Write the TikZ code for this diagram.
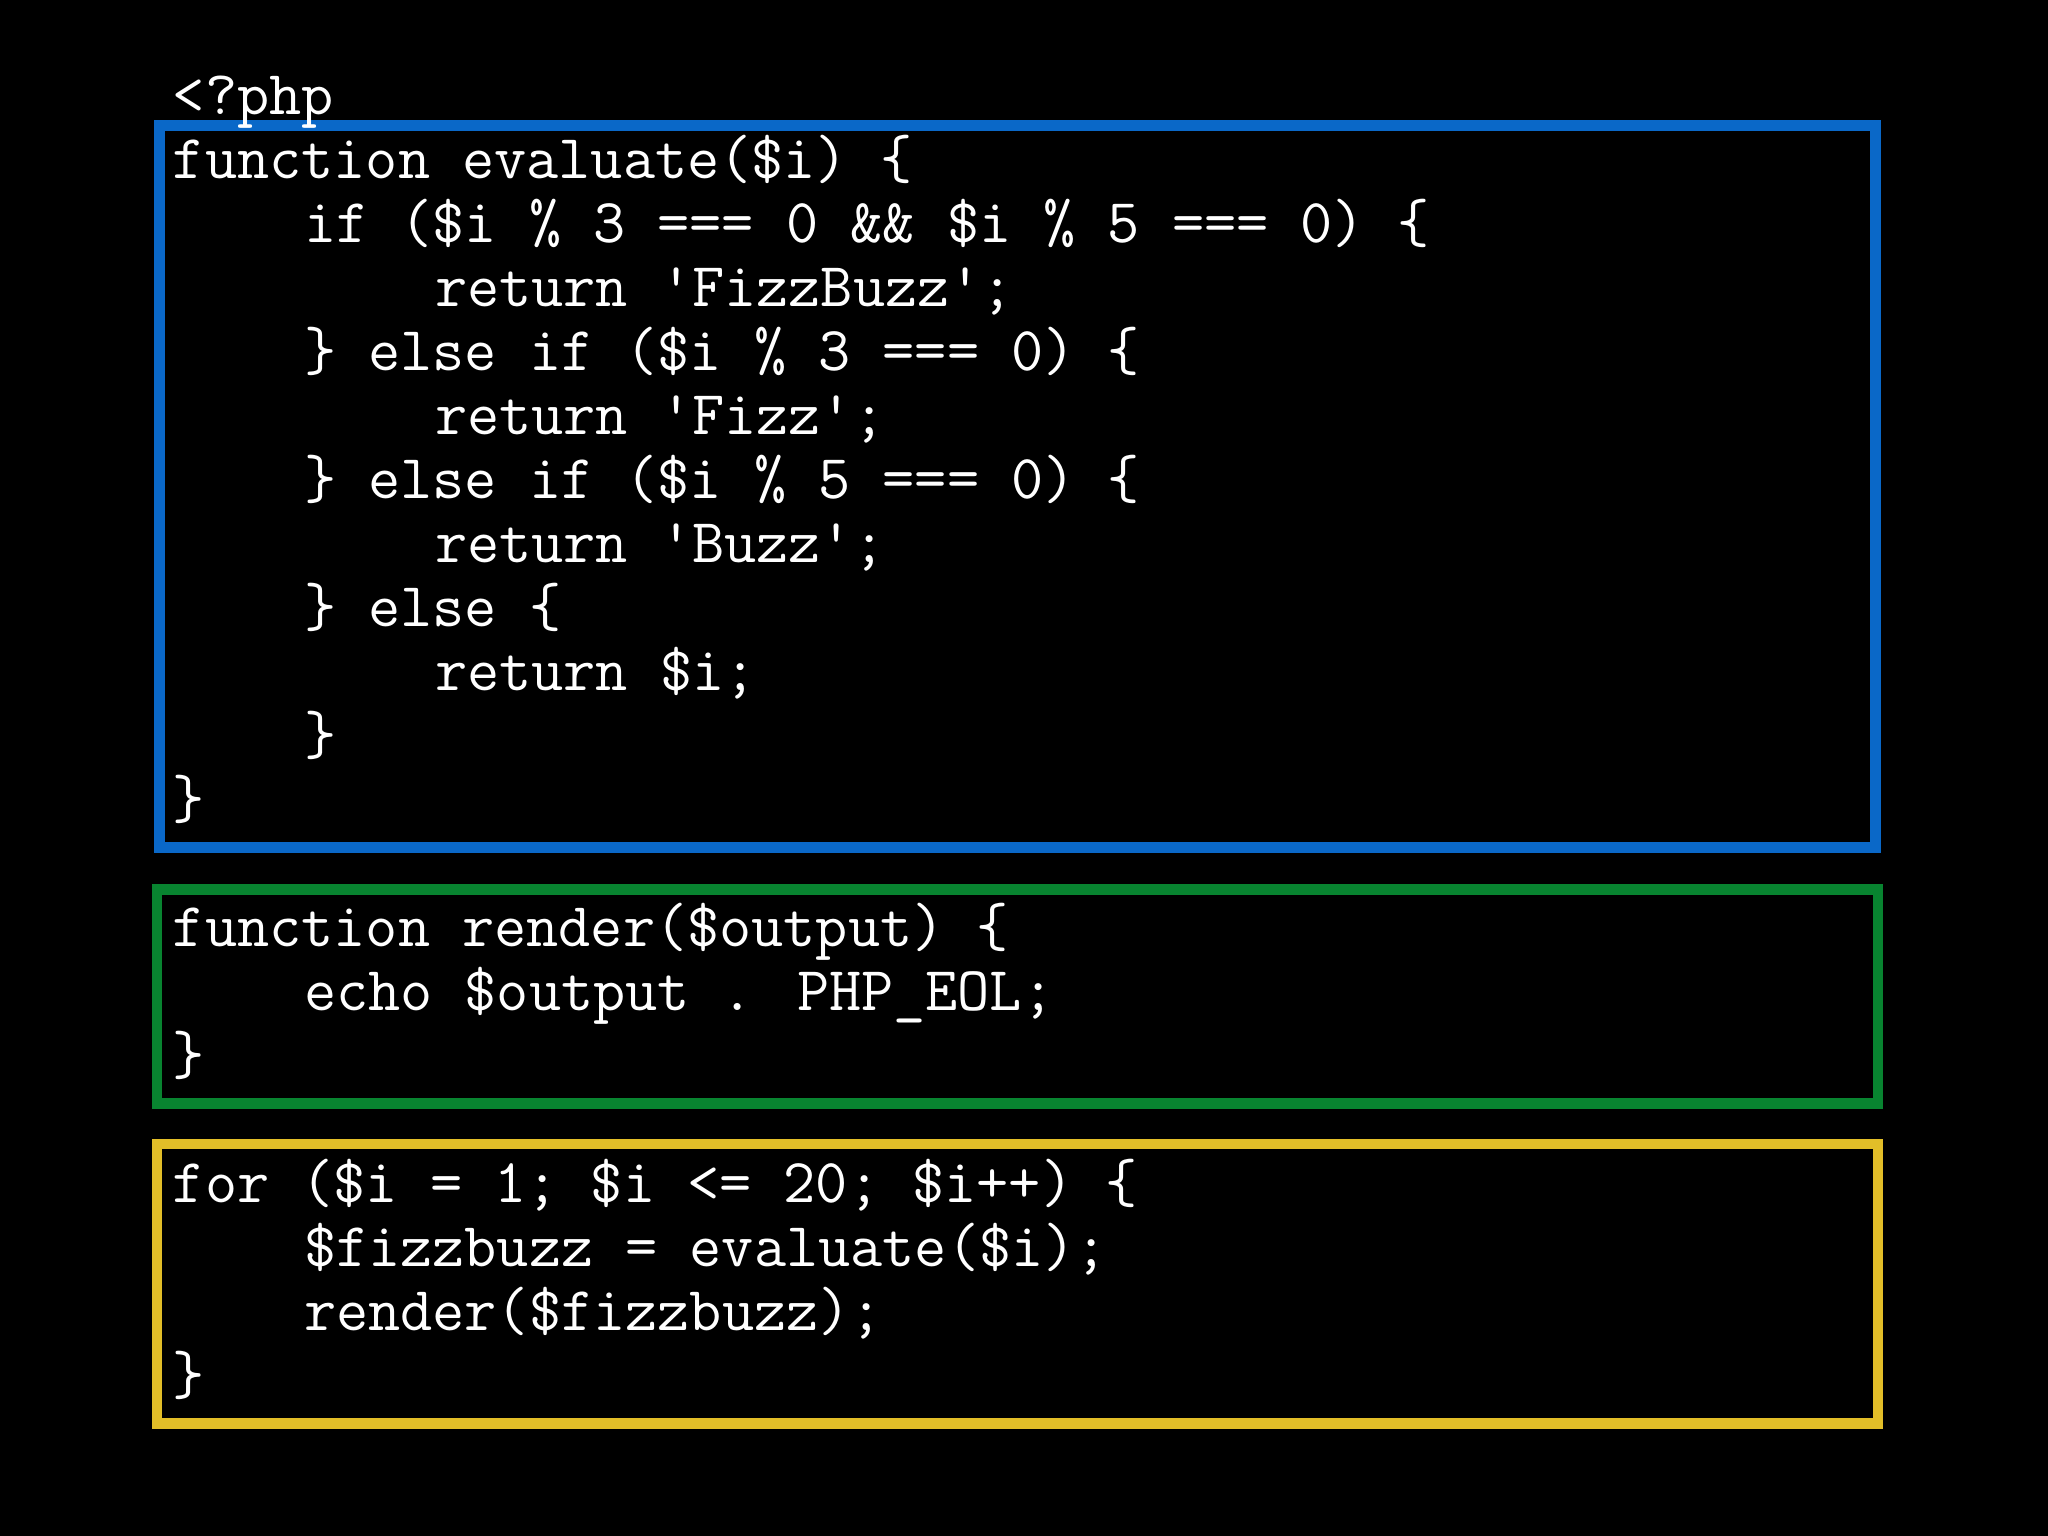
\documentclass[tikz,border=0pt]{standalone}
\usepackage{fontspec}
\newfontfamily\code{Latin Modern Mono}
\definecolor{cblue}{RGB}{10,104,200}
\definecolor{cgreen}{RGB}{8,132,48}
\definecolor{cyellow}{RGB}{226,190,40}
\newcommand{\ind}{\hspace*{2.1em}}
\begin{document}
\begin{tikzpicture}[x=0.5pt,y=-0.5pt,
  codeline/.style={anchor=base west,inner sep=0pt,text=white,font=\code\fontsize{23.9pt}{28pt}\selectfont},
  frame/.style={line width=4pt}]
\fill[black] (0,0) rectangle (1568,1176);
\useasboundingbox (0,0) rectangle (1568,1176);
\draw[frame,cblue] (122,96) rectangle (1436,649);
\draw[frame,cgreen] (120,681) rectangle (1438,845);
\draw[frame,cyellow] (120,876) rectangle (1438,1090);
\node[codeline] (l0) at (132,88) {<?php};
\foreach \t [count=\k from 0] in {
 {function evaluate(\$i) \{},
 {\ind if (\$i \% 3 === 0 \&\& \$i \% 5 === 0) \{},
 {\ind\ind return 'FizzBuzz';},
 {\ind \} else if (\$i \% 3 === 0) \{},
 {\ind\ind return 'Fizz';},
 {\ind \} else if (\$i \% 5 === 0) \{},
 {\ind\ind return 'Buzz';},
 {\ind \} else \{},
 {\ind\ind return \$i;},
 {\ind \}},
 {\}}}
 \node[codeline] (a\k) at (132,{137+49*\k}) {\t};
\foreach \t [count=\k from 0] in {
 {function render(\$output) \{},
 {\ind echo \$output . PHP\_EOL;},
 {\}}}
 \node[codeline] (b\k) at (132,{725+49*\k}) {\t};
\foreach \t [count=\k from 0] in {
 {for (\$i = 1; \$i <= 20; \$i++) \{},
 {\ind \$fizzbuzz = evaluate(\$i);},
 {\ind render(\$fizzbuzz);},
 {\}}}
 \node[codeline] (c\k) at (132,{921+49*\k}) {\t};
\end{tikzpicture}
\end{document}
